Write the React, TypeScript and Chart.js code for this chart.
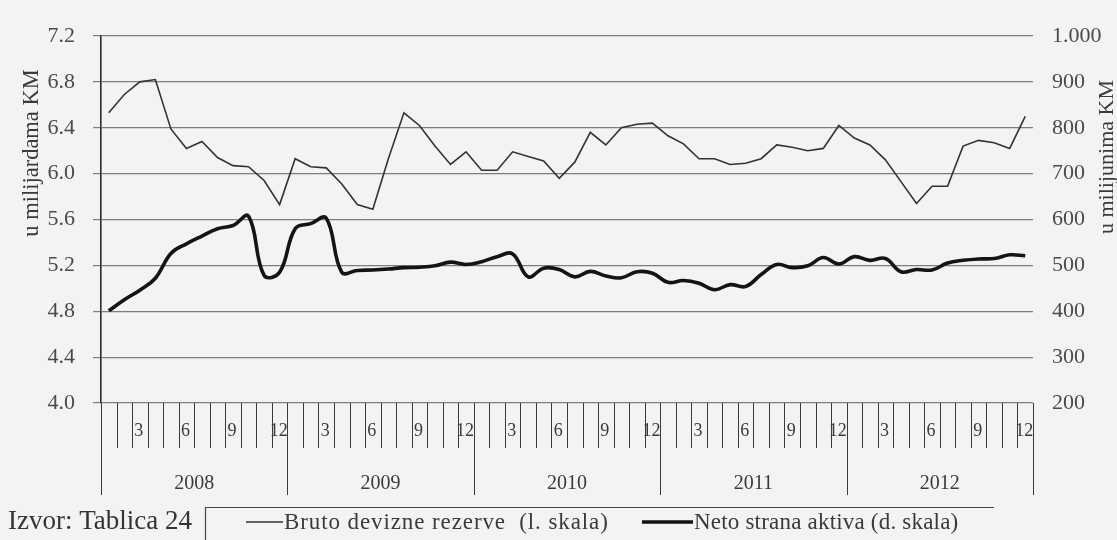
import { useEffect, useRef } from 'react';
import { Chart, registerables } from 'chart.js';

Chart.register(...registerables);

const years = ['2008', '2009', '2010', '2011', '2012'];
const monthNames = ['1', '2', '3', '4', '5', '6', '7', '8', '9', '10', '11', '12'];
const shownMonths = ['3', '6', '9', '12'];

// Bruto devizne rezerve (left scale, billions KM)
const bruto = [
  6.53, 6.69, 6.80, 6.82, 6.39, 6.22, 6.28, 6.14, 6.07, 6.06,
  5.94, 5.73, 6.13, 6.06, 6.05, 5.91, 5.73, 5.69, 6.13, 6.53,
  6.42, 6.24, 6.08, 6.19, 6.03, 6.03, 6.19, 6.15, 6.11, 5.96,
  6.10, 6.36, 6.25, 6.40, 6.43, 6.44, 6.33, 6.26, 6.13, 6.13,
  6.08, 6.09, 6.13, 6.25, 6.23, 6.20, 6.22, 6.42, 6.31, 6.25,
  6.12, 5.93, 5.74, 5.89, 5.89, 6.24, 6.29, 6.27, 6.22, 6.50,
];

// Neto strana aktiva (right scale, millions KM)
const neto = [
  401, 425, 446, 472, 526, 547, 564, 580, 587, 607,
  478, 485, 580, 591, 603, 485, 489, 490, 492, 495,
  496, 499, 507, 502, 508, 519, 525, 475, 494, 491,
  475, 487, 477, 473, 486, 483, 463, 467, 461, 447,
  458, 454, 480, 502, 495, 499, 517, 503, 519, 511,
  515, 486, 491, 490, 505, 511, 514, 515, 523, 521,
];

const leftTicks = [4.0, 4.4, 4.8, 5.2, 5.6, 6.0, 6.4, 6.8, 7.2];
const rightTicks = [200, 300, 400, 500, 600, 700, 800, 900, 1000];
const rightTickLabels = ['200', '300', '400', '500', '600', '700', '800', '900', '1.000'];

const leftTitle = 'u milijardama KM';
const rightTitle = 'u milijunima KM';
const seriesNames = ['Bruto devizne rezerve  (l. skala)', 'Neto strana aktiva (d. skala)'];
const sourceText = 'Izvor: Tablica 24';

const labels = years.flatMap((y) => monthNames.map((m) => `${m}/${y}`));

const SERIF = '"Liberation Serif", "Times New Roman", serif';
const BG = '#f3f3f5';

const decorPlugin = {
  id: 'decor',
  beforeDraw(chart: any) {
    const ctx = chart.ctx;
    ctx.save();
    ctx.fillStyle = BG;
    ctx.fillRect(0, 0, chart.width, chart.height);
    ctx.restore();
  },
  afterDraw(chart: any) {
    const ctx = chart.ctx;
    const xs = chart.scales.x;
    const area = chart.chartArea;
    const step = xs.getPixelForValue(1) - xs.getPixelForValue(0);
    const start = xs.getPixelForValue(0) - step / 2;
    const bottom = area.bottom;

    ctx.save();
    // month / year separators
    ctx.strokeStyle = '#3a3a3a';
    ctx.lineWidth = 1;
    for (let i = 0; i <= labels.length; i++) {
      const px = Math.round(start + i * step) + 0.5;
      const isYear = i % 12 === 0;
      ctx.beginPath();
      ctx.moveTo(px, bottom);
      ctx.lineTo(px, bottom + (isYear ? 92 : 45));
      ctx.stroke();
    }
    // month labels
    ctx.fillStyle = '#3a3a3a';
    ctx.font = `18px ${SERIF}`;
    ctx.textAlign = 'center';
    ctx.textBaseline = 'middle';
    labels.forEach((lab, i) => {
      const m = lab.split('/')[0];
      if (shownMonths.includes(m)) {
        ctx.fillText(m, xs.getPixelForValue(i) - 1, bottom + 28);
      }
    });
    // year labels
    ctx.font = `20px ${SERIF}`;
    years.forEach((y, k) => {
      const cx = (xs.getPixelForValue(k * 12) + xs.getPixelForValue(k * 12 + 11)) / 2;
      ctx.fillText(y, cx, bottom + 81);
    });

    // axis titles
    ctx.fillStyle = '#3a3a3a';
    ctx.textBaseline = 'alphabetic';
    ctx.save();
    ctx.font = `22.5px ${SERIF}`;
    ctx.translate(38, 153);
    ctx.rotate(-Math.PI / 2);
    ctx.fillText(leftTitle, 0, 0);
    ctx.restore();
    ctx.save();
    ctx.font = `22px ${SERIF}`;
    ctx.translate(1113, 157);
    ctx.rotate(-Math.PI / 2);
    ctx.fillText(rightTitle, 0, 0);
    ctx.restore();

    // source
    ctx.textAlign = 'left';
    ctx.textBaseline = 'middle';
    ctx.font = `27px ${SERIF}`;
    ctx.fillStyle = '#333';
    ctx.fillText(sourceText, 8, 522);

    // legend box
    ctx.strokeStyle = '#444';
    ctx.lineWidth = 1.2;
    ctx.beginPath();
    ctx.moveTo(205.5, 545);
    ctx.lineTo(205.5, 507.5);
    ctx.lineTo(994, 507.5);
    ctx.stroke();

    const items = [
      { x0: 246, x1: 283, w: 1.6, color: '#333', text: seriesNames[0], spacing: '0.9px' },
      { x0: 642, x1: 693, w: 3.5, color: '#111', text: seriesNames[1], spacing: '0.2px' },
    ];
    ctx.font = `23px ${SERIF}`;
    items.forEach((it) => {
      ctx.strokeStyle = it.color;
      ctx.lineWidth = it.w;
      ctx.beginPath();
      ctx.moveTo(it.x0, 522);
      ctx.lineTo(it.x1, 522);
      ctx.stroke();
      (ctx as any).letterSpacing = it.spacing;
      ctx.fillStyle = '#3a3a3a';
      ctx.fillText(it.text, it.x1 + 1, 523);
      (ctx as any).letterSpacing = '0px';
    });
    ctx.restore();
  },
};

export default function App() {
  const ref = useRef<HTMLCanvasElement | null>(null);

  useEffect(() => {
    if (!ref.current) return;
    const chart = new Chart(ref.current, {
      type: 'line',
      data: {
        labels,
        datasets: [
          {
            label: seriesNames[0],
            data: bruto,
            yAxisID: 'y',
            borderColor: '#333333',
            borderWidth: 1.6,
            pointRadius: 0,
            tension: 0,
            fill: false,
          },
          {
            label: seriesNames[1],
            data: neto,
            yAxisID: 'y1',
            borderColor: '#141414',
            borderWidth: 3.6,
            pointRadius: 0,
            tension: 0.4,
            fill: false,
          },
        ],
      },
      options: {
        responsive: false,
        animation: false,
        devicePixelRatio: 1,
        layout: { padding: { top: 36, left: 0, right: 0, bottom: 0 } },
        plugins: {
          legend: { display: false },
          tooltip: { enabled: false },
        },
        scales: {
          x: {
            type: 'category',
            offset: true,
            grid: { display: false },
            ticks: { display: false },
            border: { display: false },
            afterFit: (s: any) => {
              s.height = 137;
            },
          },
          y: {
            position: 'left',
            min: 4,
            max: 7.2,
            afterBuildTicks: (s: any) => {
              s.ticks = leftTicks.map((v) => ({ value: v }));
            },
            afterFit: (s: any) => {
              s.width = 101;
            },
            ticks: {
              padding: 18,
              color: '#4a4a4a',
              font: { family: SERIF, size: 22 },
              callback: (v: any) => Number(v).toFixed(1),
            },
            grid: {
              color: '#7d7d7d',
              lineWidth: 1.2,
              drawTicks: true,
              tickLength: 8,
            },
            border: { display: true, color: '#2a2a2a', width: 1.6 },
          },
          y1: {
            position: 'right',
            min: 200,
            max: 1000,
            afterBuildTicks: (s: any) => {
              s.ticks = rightTicks.map((v) => ({ value: v }));
            },
            afterFit: (s: any) => {
              s.width = 1117 - 1033;
            },
            ticks: {
              padding: 19,
              color: '#4a4a4a',
              font: { family: SERIF, size: 22 },
              callback: (v: any) => {
                const idx = rightTicks.indexOf(Number(v));
                return idx >= 0 ? rightTickLabels[idx] : String(v);
              },
            },
            grid: { display: false, drawTicks: false },
            border: { display: false },
          },
        },
      } as any,
      plugins: [decorPlugin],
    });
    return () => chart.destroy();
  }, []);

  return (
    <div style={{ position: 'fixed', left: 0, top: 0, width: 1117, height: 540, background: BG }}>
      <canvas ref={ref} width={1117} height={540} style={{ display: 'block' }} />
    </div>
  );
}
